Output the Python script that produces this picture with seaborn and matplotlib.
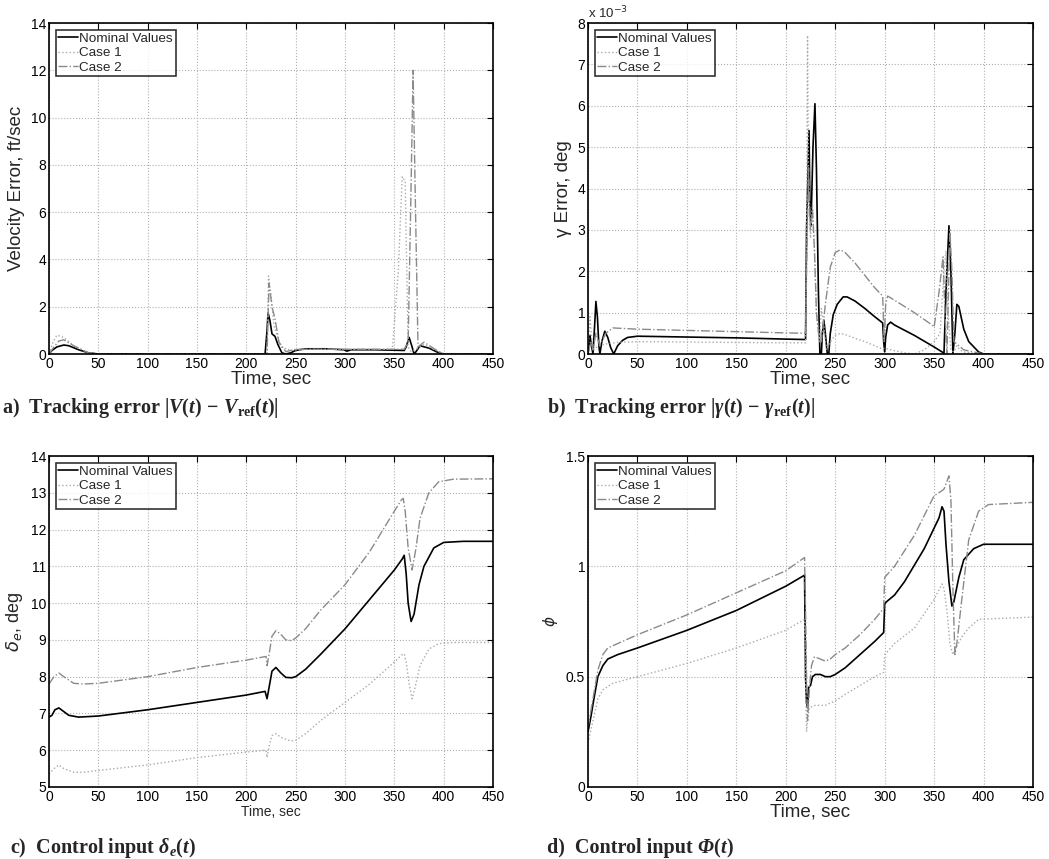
import numpy as np
import pandas as pd
import seaborn as sns
import matplotlib.pyplot as plt

# ---- a) velocity error, ft/sec ----
va_nom_t = [0, 3, 8, 15, 20, 30, 40, 50, 219, 221, 222, 224, 226, 229, 232, 236, 240, 245, 250, 260, 280, 299,
            302, 306, 330, 360, 362, 365, 368, 370, 372, 376, 385, 395, 400, 450]
va_nom_v = [0, 0.15, 0.3, 0.38, 0.35, 0.18, 0.05, 0.0, 0.0, 1.0, 1.75, 1.4, 0.85, 0.75, 0.4, 0.05, 0.0, 0.05,
            0.15, 0.22, 0.22, 0.18, 0.12, 0.18, 0.18, 0.15, 0.3, 0.7, 0.3, 0.0, 0.1, 0.35, 0.25, 0.05, 0.0, 0.0]
va_c1_t = [0, 4, 8, 15, 25, 40, 50, 221, 222.5, 225, 228, 235, 245, 260, 300, 348, 354, 358, 361, 364, 367,
           372, 380, 390, 400, 450]
va_c1_v = [0, 0.5, 0.8, 0.7, 0.35, 0.05, 0.0, 0.0, 3.3, 2.5, 1.2, 0.3, 0.15, 0.2, 0.2, 0.2, 3.5, 7.5, 7.3, 0.3,
           0.1, 0.2, 0.4, 0.2, 0.02, 0.0]
va_c2_t = [0, 5, 10, 15, 25, 40, 50, 221, 223, 226, 229, 233, 240, 250, 300, 350, 360, 364, 366.5, 369,
           371.5, 374, 380, 395, 400, 450]
va_c2_v = [0, 0.3, 0.55, 0.6, 0.35, 0.05, 0.0, 0.0, 3.0, 2.0, 1.5, 0.5, 0.1, 0.2, 0.2, 0.2, 0.2, 0.5, 6.0,
           12.0, 6.0, 0.3, 0.5, 0.1, 0.0, 0.0]

# ---- b) gamma error, deg (x 1e-3) ----
gb_nom_t = [0, 2, 3.5, 5, 6.5, 8, 9.5, 11, 12, 14, 17, 20, 23, 26, 30, 35, 40, 50, 100, 150, 200, 220, 221,
            223.5, 224.5, 225.5, 227.5, 229.5, 231, 233, 234.5, 236, 237, 238.5, 240, 242, 243.5, 245, 248,
            252, 258, 262, 270, 280, 290, 298, 299, 300, 301, 303, 306, 310, 330, 350, 360, 362, 365, 367,
            369, 371, 373, 375, 380, 385, 395, 400, 450]
gb_nom_v = [0, 0.45, 0.2, 0, 0.6, 1.27, 0.9, 0.2, 0, 0.3, 0.55, 0.4, 0.15, 0, 0.2, 0.33, 0.4, 0.43, 0.41,
            0.39, 0.36, 0.35, 3.0, 5.4, 3.5, 3.1, 5.0, 6.05, 4.5, 1.5, 0.0, 0.0, 0.5, 0.82, 0.5, 0.0, 0.0,
            0.5, 0.95, 1.2, 1.38, 1.38, 1.28, 1.1, 0.9, 0.75, 0.3, 0.05, 0.4, 0.7, 0.77, 0.7, 0.45, 0.17,
            0.02, 1.5, 3.1, 2.0, 0.0, 0.5, 1.2, 1.15, 0.6, 0.3, 0.05, 0.0, 0.0]
gb_c1_t = [0, 2, 4, 6, 10, 20, 30, 50, 100, 150, 200, 220, 221, 222, 223, 225, 227, 229, 231, 234, 236, 238,
           241, 245, 250, 255, 260, 270, 280, 290, 298, 300, 303, 310, 320, 330, 340, 350, 356, 360, 362,
           364, 367, 370, 373, 376, 380, 390, 400, 450]
gb_c1_v = [0, 0.9, 0.3, 0.1, 0.2, 0.25, 0.28, 0.3, 0.29, 0.28, 0.27, 0.27, 3.0, 7.7, 4.0, 2.8, 3.6, 2.5, 1.0,
           0.3, 1.1, 0.8, 0.1, 0.3, 0.45, 0.5, 0.47, 0.38, 0.3, 0.2, 0.12, 0.15, 0.12, 0.08, 0.03, 0.0,
           0.1, 0.3, 0.5, 2.0, 2.5, 1.0, 0.1, 0.05, 0.2, 0.1, 0.05, 0.02, 0.0, 0.0]
gb_c2_t = [0, 3, 5, 8, 12, 18, 25, 50, 100, 150, 200, 220, 221, 223, 225, 227, 229, 231, 234, 236, 240, 245,
           250, 255, 260, 270, 280, 290, 298, 299.5, 301, 303, 310, 330, 348, 350, 355, 359, 361, 363, 366,
           368, 370, 375, 380, 400, 450]
gb_c2_v = [0, 0.3, 0.1, 0.5, 0.2, 0.5, 0.63, 0.6, 0.57, 0.54, 0.51, 0.5, 2.0, 4.5, 3.0, 3.5, 2.5, 1.0, 0.3,
           0.3, 1.2, 2.1, 2.45, 2.52, 2.45, 2.2, 1.9, 1.6, 1.4, 0.3, 1.2, 1.4, 1.3, 1.0, 0.7, 0.65, 1.5,
           2.35, 1.0, 0.0, 3.0, 2.0, 0.3, 0.2, 0.1, 0.0, 0.0]

# ---- c) elevator deflection, deg ----
dc_nom_t = [0, 3, 6, 10, 15, 20, 30, 50, 100, 150, 200, 219, 221, 223, 226, 230, 235, 240, 246, 250, 260,
            275, 300, 325, 350, 358, 360, 362, 364, 367, 370, 375, 380, 390, 400, 420, 450]
dc_nom_v = [6.9, 6.95, 7.1, 7.15, 7.05, 6.95, 6.9, 6.93, 7.1, 7.3, 7.5, 7.6, 7.4, 7.7, 8.15, 8.25, 8.1, 7.98,
            7.97, 8.0, 8.2, 8.6, 9.3, 10.1, 10.9, 11.2, 11.3, 10.8, 10.0, 9.5, 9.7, 10.5, 11.0, 11.5, 11.65,
            11.68, 11.68]
dc_c1_t = [0, 5, 10, 15, 25, 35, 50, 100, 150, 200, 220, 221, 223, 226, 230, 235, 245, 250, 260, 275, 300,
           325, 350, 358, 360, 362, 365, 368, 371, 376, 385, 395, 410, 450]
dc_c1_v = [5.35, 5.5, 5.6, 5.5, 5.4, 5.4, 5.45, 5.6, 5.8, 5.95, 6.0, 5.8, 6.1, 6.4, 6.45, 6.35, 6.25, 6.27,
           6.45, 6.8, 7.3, 7.8, 8.4, 8.6, 8.62, 8.4, 7.8, 7.4, 7.7, 8.3, 8.75, 8.9, 8.93, 8.93]
dc_c2_t = [0, 5, 10, 15, 25, 35, 50, 100, 150, 200, 220, 221, 223, 226, 230, 235, 240, 246, 250, 260, 275,
           300, 325, 350, 357, 359, 361, 364, 368, 372, 376, 385, 395, 410, 450]
dc_c2_v = [7.8, 8.0, 8.1, 8.0, 7.82, 7.8, 7.82, 8.0, 8.25, 8.45, 8.55, 8.3, 8.6, 9.1, 9.25, 9.15, 9.0, 8.98,
           9.05, 9.3, 9.8, 10.5, 11.4, 12.5, 12.8, 12.85, 12.5, 11.5, 10.9, 11.5, 12.3, 13.0, 13.3, 13.37,
           13.38]

# ---- d) phi ----
pd_nom_t = [0, 3, 6, 10, 15, 20, 30, 50, 100, 150, 200, 219, 220, 221, 222, 223, 225, 227, 230, 235, 240, 245,
            250, 260, 275, 290, 299, 300, 302, 310, 320, 340, 355, 358, 360, 362, 365, 368, 370, 375, 380,
            390, 400, 450]
pd_nom_v = [0.25, 0.32, 0.4, 0.5, 0.55, 0.58, 0.6, 0.63, 0.71, 0.8, 0.91, 0.96, 0.5, 0.38, 0.36, 0.45, 0.46,
            0.5, 0.51, 0.51, 0.5, 0.5, 0.51, 0.54, 0.6, 0.66, 0.7, 0.83, 0.84, 0.87, 0.93, 1.08, 1.22, 1.27,
            1.25, 1.1, 0.93, 0.82, 0.84, 0.95, 1.03, 1.08, 1.1, 1.1]
pd_c1_t = [0, 5, 10, 15, 25, 50, 100, 150, 200, 219, 220, 221, 222, 224, 230, 240, 250, 260, 275, 290, 299,
           300, 310, 330, 350, 358, 360, 363, 366, 369, 372, 378, 385, 395, 450]
pd_c1_v = [0.2, 0.3, 0.4, 0.44, 0.47, 0.5, 0.56, 0.63, 0.71, 0.76, 0.5, 0.25, 0.3, 0.36, 0.37, 0.37, 0.39,
           0.42, 0.46, 0.5, 0.52, 0.6, 0.65, 0.72, 0.85, 0.92, 0.9, 0.8, 0.65, 0.6, 0.63, 0.68, 0.72, 0.76,
           0.77]
pd_c2_t = [0, 5, 10, 15, 20, 30, 50, 100, 150, 200, 219, 220, 221, 222, 224, 226, 229, 235, 240, 245, 250,
           260, 275, 290, 299, 300, 310, 330, 350, 357, 360, 365, 367, 369, 371, 373, 378, 385, 395, 405, 450]
pd_c2_v = [0.27, 0.4, 0.53, 0.6, 0.63, 0.65, 0.69, 0.78, 0.88, 0.98, 1.04, 0.8, 0.5, 0.3, 0.45, 0.55, 0.59,
           0.58, 0.57, 0.58, 0.6, 0.63, 0.69, 0.76, 0.81, 0.95, 1.0, 1.14, 1.32, 1.34, 1.35, 1.41, 1.3, 0.9,
           0.6, 0.65, 0.85, 1.12, 1.25, 1.28, 1.29]

labels = ["Nominal Values", "Case 1", "Case 2"]

sns.set_theme(style="white")
plt.rcParams['font.family'] = ['Liberation Sans', 'DejaVu Sans']
plt.rcParams['mathtext.fontset'] = 'custom'
plt.rcParams['mathtext.rm'] = 'Liberation Serif:bold'
plt.rcParams['mathtext.it'] = 'Liberation Serif:italic:bold'
plt.rcParams['mathtext.bf'] = 'Liberation Serif:bold'

styles = [dict(color='black', linestyle='-', linewidth=1.2),
          dict(color='#aaaaaa', linestyle=':', linewidth=1.0),
          dict(color='#8a8a8a', linestyle='-.', linewidth=1.0)]

fig = plt.figure(figsize=(10.49, 8.59), dpi=100)
W, H = 1049, 859


def make_ax(l, t, r, b):
    return fig.add_axes([l / W, 1 - b / H, (r - l) / W, (b - t) / H])


def draw(ax, series, ylim, yticks):
    for (t, v), lab, st in zip(series, labels, styles):
        df = pd.DataFrame({"t": t, "v": v})
        sns.lineplot(data=df, x="t", y="v", ax=ax, label=lab, estimator=None, sort=False, **st)
    ax.set_xlim(0, 450)
    ax.set_xticks(np.arange(0, 451, 50))
    ax.set_ylim(*ylim)
    ax.set_yticks(yticks)
    ax.grid(True, linestyle=':', color='#b0b0b0', linewidth=0.8)
    ax.tick_params(direction='in', top=True, right=True, length=4, width=0.8, labelsize=10, pad=2,
                   colors='black')
    for s in ax.spines.values():
        s.set_color('black')
        s.set_linewidth(1.2)
    leg = ax.legend(loc='upper left', fontsize=9.7, frameon=True, fancybox=False, handlelength=1.45,
                    handletextpad=0.1, labelspacing=0.15, borderpad=0.2, borderaxespad=0.5)
    leg.get_frame().set_edgecolor('black')
    leg.get_frame().set_linewidth(1.2)


ax_a = make_ax(49, 23, 493, 354)
draw(ax_a, [(va_nom_t, va_nom_v), (va_c1_t, va_c1_v), (va_c2_t, va_c2_v)], (0, 14), np.arange(0, 15, 2))
ax_a.set_xlabel("Time, sec", fontsize=13.5, labelpad=0)
ax_a.set_ylabel("Velocity Error, ft/sec", fontsize=13.5, labelpad=4)

ax_b = make_ax(588, 23, 1033, 354)
draw(ax_b, [(gb_nom_t, gb_nom_v), (gb_c1_t, gb_c1_v), (gb_c2_t, gb_c2_v)], (0, 8), np.arange(0, 9, 1))
ax_b.set_xlabel("Time, sec", fontsize=13.5, labelpad=0)
ax_b.set_ylabel("γ Error, deg", fontsize=13.5, labelpad=4)
ax_b.text(0.0, 1.005, r'x 10$^{-3}$', transform=ax_b.transAxes, fontsize=9.5, va='bottom', ha='left',
          math_fontfamily='dejavusans')

ax_c = make_ax(49, 456, 493, 787)
draw(ax_c, [(dc_nom_t, dc_nom_v), (dc_c1_t, dc_c1_v), (dc_c2_t, dc_c2_v)], (5, 14), np.arange(5, 15, 1))
ax_c.set_xlabel("Time, sec", fontsize=10, labelpad=1)
ax_c.set_ylabel(r'$\delta_e$, deg', fontsize=13, labelpad=4, math_fontfamily='dejavusans')

ax_d = make_ax(588, 456, 1033, 787)
draw(ax_d, [(pd_nom_t, pd_nom_v), (pd_c1_t, pd_c1_v), (pd_c2_t, pd_c2_v)], (0, 1.5), [0, 0.5, 1, 1.5])
ax_d.set_yticklabels(["0", "0.5", "1", "1.5"])
ax_d.set_xlabel("Time, sec", fontsize=13.5, labelpad=0)
ax_d.set_ylabel(r'$\phi$', fontsize=11, labelpad=4, math_fontfamily='dejavusans')

cap = dict(fontsize=14.5, fontweight='bold', family='Liberation Serif', ha='left')
fig.text(2 / W, 1 - 413 / H, r'a)  Tracking error $|V(t)\,-\,V_{\rm ref}(t)|$', va='baseline', **cap)
fig.text(547 / W, 1 - 413 / H, r'b)  Tracking error $|\gamma(t)\,-\,\gamma_{\rm ref}(t)|$', va='baseline', **cap)
fig.text(10 / W, 1 - 853 / H, r'c)  Control input $\delta_e(t)$', va='baseline', **cap)

# caption d: upright text followed by an italic capital Phi
prev = fig.text(547 / W, 1 - 853 / H, 'd)  Control input ', va='baseline', **cap)
for piece, style in [('Φ', 'italic'), ('(', 'normal'), ('t', 'italic'), (')', 'normal')]:
    prev = ax_d.annotate(piece, xy=(1, 0), xycoords=prev, va='bottom', fontstyle=style,
                         annotation_clip=False, **cap)

plt.savefig("out.png", dpi=100)
